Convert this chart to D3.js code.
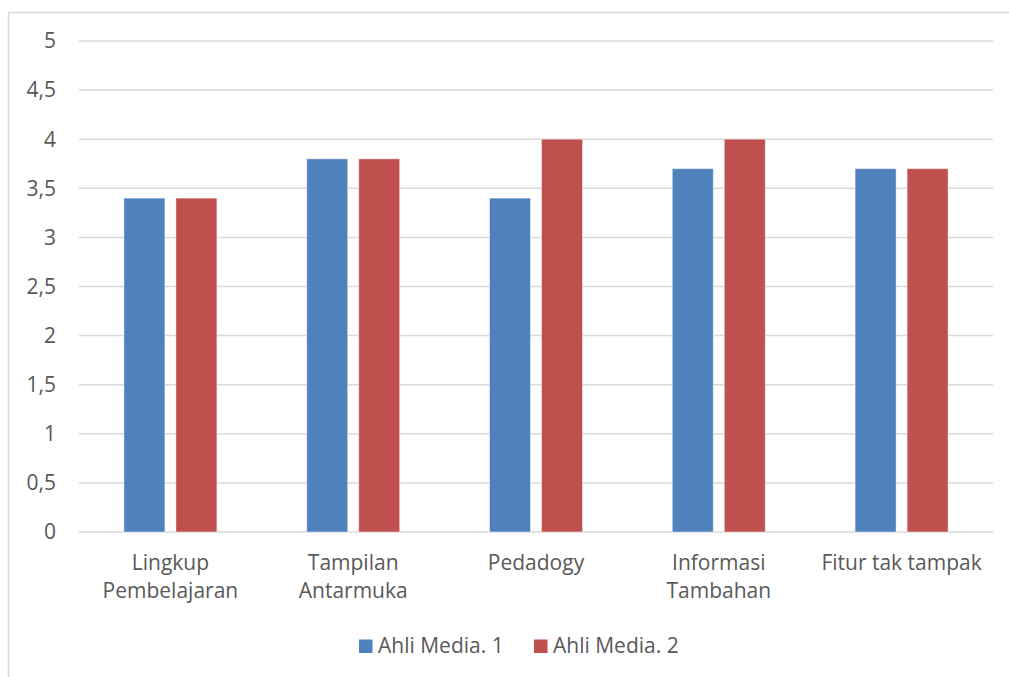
<!DOCTYPE html>
<html><head><meta charset="utf-8">
<script src="https://cdn.jsdelivr.net/npm/d3@7"></script>
<style>body{margin:0;background:#fff;}svg{display:block;font-family:"Open Sans",sans-serif;}</style>
</head><body>
<svg id="c" width="1009" height="677"></svg>
<script>
const categories = [["Lingkup","Pembelajaran"],["Tampilan","Antarmuka"],["Pedadogy"],["Informasi","Tambahan"],["Fitur tak tampak"]];
const seriesNames = ["Ahli Media. 1","Ahli Media. 2"];
const media1 = [3.4,3.8,3.4,3.7,3.7];
const media2 = [3.4,3.8,4.0,4.0,3.7];
const yTicks = [0,0.5,1,1.5,2,2.5,3,3.5,4,4.5,5];
const colors = ["#4F81BD","#C0504D"];

(function(){
const svg = d3.select("#c");
const FS = 21;
svg.append("rect").attr("x",8.5).attr("y",12.5).attr("width",1100).attr("height",800)
  .attr("fill","none").attr("stroke","#D9D9D9").attr("stroke-width",1.5);

const pLeft=79,pRight=993,pTop=41,pBottom=532;
const keys = categories.map((d,i)=>i);
const x0 = d3.scaleBand().domain(keys).range([pLeft,pRight]).padding(0);
const groupW = 93;
const x1 = d3.scaleBand().domain([0,1]).range([0,groupW]).paddingInner(2-93/52);
const y = d3.scaleLinear().domain([0,5]).range([pBottom,pTop]);

const fmt = v => String(v).replace(".",",");
const grid = svg.append("g");
yTicks.forEach(t=>{
  grid.append("line").attr("x1",pLeft).attr("x2",pRight).attr("y1",y(t)).attr("y2",y(t))
    .attr("stroke","#D9D9D9").attr("stroke-width",1.5);
  svg.append("text").attr("x",56).attr("y",y(t)).attr("dy","0.35em").attr("text-anchor","end")
    .attr("font-size",FS).attr("fill","#595959").text(fmt(t));
});

const data = [media1,media2];
keys.forEach(i=>{
  const off = x0(i)+(x0.bandwidth()-groupW)/2;
  data.forEach((s,j)=>{
    svg.append("rect").attr("x",off+x1(j)).attr("width",x1.bandwidth())
      .attr("y",y(s[i])).attr("height",y(0)-y(s[i]))
      .attr("fill",colors[j]).attr("stroke","rgba(255,255,255,0.45)").attr("stroke-width",1);
  });
  const cx = x0(i)+x0.bandwidth()/2;
  const t = svg.append("text").attr("text-anchor","middle").attr("font-size",FS).attr("fill","#595959");
  categories[i].forEach((line,k)=>{
    t.append("tspan").attr("x",cx).attr("y",570+k*28).text(line);
  });
});

const leg = svg.append("g");
const legX = [359,534];
seriesNames.forEach((n,j)=>{
  leg.append("rect").attr("x",legX[j]).attr("y",639.5).attr("width",13.5).attr("height",13.5).attr("fill",colors[j]);
  leg.append("text").attr("x",legX[j]+19).attr("y",653).attr("font-size",FS)
    .attr("fill","#595959").text(n);
});
})();
</script>
</body></html>
